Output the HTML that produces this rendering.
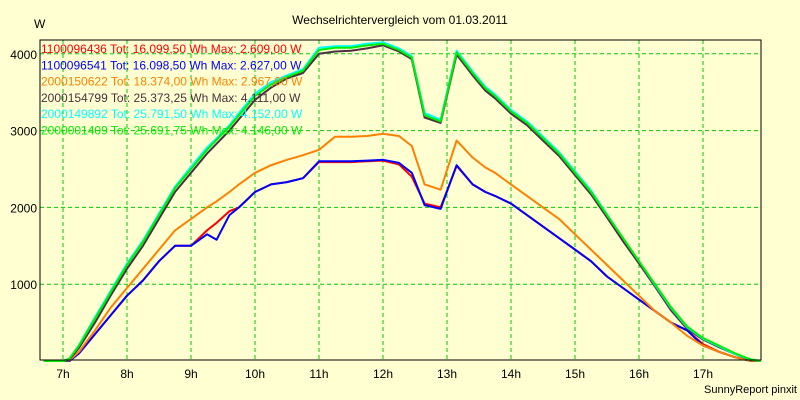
<!DOCTYPE html>
<html><head><meta charset="utf-8"><style>
body{margin:0;background:#ffffd2;}
svg{display:block;font-family:"Liberation Sans",sans-serif;}
</style></head><body>
<svg id="chart" width="800" height="400" viewBox="0 0 800 400">
<rect x="0" y="0" width="800" height="400" fill="#ffffd2"/>
<text x="400" y="24" font-size="12" text-anchor="middle" fill="#000">Wechselrichtervergleich vom 01.03.2011</text>
<text x="34" y="28" font-size="12" fill="#000">W</text>
<text x="797" y="393" font-size="11" text-anchor="end" fill="#000">SunnyReport pinxit</text>
<g id="grid"></g>
<g id="series"></g>
<g id="legend"></g>
<rect x="40" y="40" width="721" height="320" fill="none" stroke="#000" stroke-width="1"/>
</svg>
<script>
const times=[6.7,7.0,7.1,7.25,7.5,7.75,8,8.25,8.5,8.75,9,9.25,9.4,9.6,9.75,10,10.25,10.5,10.75,11,11.25,11.5,11.75,12,12.25,12.45,12.65,12.9,13.15,13.4,13.6,13.75,14,14.25,14.5,14.75,15,15.25,15.5,15.75,16,16.25,16.5,16.75,17,17.25,17.5,17.75,17.9];
const sGreen=[0,0,30,200,550,900,1250,1550,1900,2250,2500,2750,2880,3050,3200,3450,3600,3700,3780,4050,4080,4080,4110,4130,4050,3950,3200,3120,4020,3750,3550,3450,3250,3100,2900,2700,2450,2200,1900,1600,1300,1000,700,450,300,200,100,20,0];
const sCyan=[0,0,30,210,570,920,1270,1570,1920,2270,2530,2780,2900,3070,3230,3480,3630,3720,3800,4080,4100,4100,4130,4150,4070,3970,3230,3140,4040,3770,3570,3470,3270,3120,2920,2720,2470,2220,1910,1600,1300,990,690,440,290,190,90,20,0];
const sDark=[0,0,20,170,500,860,1200,1500,1850,2200,2450,2700,2830,3000,3150,3400,3560,3680,3750,4000,4030,4040,4070,4111,4030,3930,3170,3100,3990,3720,3520,3420,3220,3070,2870,2670,2420,2170,1870,1560,1270,970,660,420,280,180,90,10,0];
const sOrange=[0,0,10,120,400,700,950,1200,1450,1700,1850,2000,2080,2200,2300,2450,2550,2620,2680,2750,2920,2920,2930,2960,2930,2800,2300,2230,2870,2650,2520,2450,2300,2150,2000,1850,1650,1450,1250,1050,850,650,500,330,200,120,50,0,0];
const sRed=[0,0,0,100,350,600,850,1050,1300,1500,1500,1700,1800,1950,2000,2200,2300,2330,2380,2590,2590,2590,2600,2609,2560,2400,2050,2000,2540,2300,2200,2150,2050,1900,1750,1600,1450,1300,1100,950,800,650,500,400,220,120,50,0,0];
const sBlue=[0,0,0,100,350,600,850,1050,1300,1500,1500,1650,1580,1900,2000,2200,2300,2330,2380,2600,2600,2600,2610,2620,2580,2450,2030,1980,2550,2300,2200,2150,2050,1900,1750,1600,1450,1300,1100,950,800,650,500,400,200,120,50,0,0];
const yTicks=[1000,2000,3000,4000];
const xTicks=[7,8,9,10,11,12,13,14,15,16,17];
const legendLabels=["1100096436 Tot: 16.099,50 Wh Max: 2.609,00 W","1100096541 Tot: 16.098,50 Wh Max: 2.627,00 W","2000150622 Tot: 18.374,00 Wh Max: 2.967,00 W","2000154799 Tot: 25.373,25 Wh Max: 4.111,00 W","2000149892 Tot: 25.791,50 Wh Max: 4.152,00 W","2000001409 Tot: 25.691,75 Wh Max: 4.146,00 W"];

const NS="http://www.w3.org/2000/svg";
const xs=t=>63+(t-7)*64;
const ys=v=>361-v*0.0768;
const grid=document.getElementById('grid');
function mk(tag,attrs,parent){const e=document.createElementNS(NS,tag);for(const k in attrs)e.setAttribute(k,attrs[k]);parent.appendChild(e);return e;}
yTicks.forEach(v=>{
  const l=mk('line',{x1:40,x2:761,y1:ys(v),y2:ys(v),stroke:'#00cc00','stroke-dasharray':'4,3'},grid);
  
  
  const t=mk('text',{x:37,y:ys(v)+5,'font-size':12,'text-anchor':'end',fill:'#000'},grid);
  t.textContent=v;
  
  
});
xTicks.forEach(h=>{
  const l=mk('line',{x1:xs(h),x2:xs(h),y1:40,y2:360,stroke:'#00cc00','stroke-dasharray':'4,3'},grid);
  
  
  const t=mk('text',{x:xs(h),y:378,'font-size':12,'text-anchor':'middle',fill:'#000'},grid);
  t.textContent=h+'h';
  
  
});
const seriesList=[[sRed,'#ff0000'],[sBlue,'#0000ff'],[sOrange,'#ff8000'],[sDark,'#4a3040'],[sCyan,'#00ffff'],[sGreen,'#00ee00']];
const sg=document.getElementById('series');
seriesList.forEach(([d,c],i)=>{
  const p=mk('polyline',{points:times.map((t,j)=>xs(t).toFixed(1)+','+ys(d[j]).toFixed(1)).join(' '),fill:'none',stroke:c,'stroke-width':2,'stroke-linejoin':'round'},sg);
  
  
});
const lg=document.getElementById('legend');
legendLabels.forEach((s,i)=>{
  const t=mk('text',{x:41,y:53+i*16.3,'font-size':12,fill:seriesList[i][1]},lg);
  t.textContent=s;
  
  
});
</script>
</body></html>
